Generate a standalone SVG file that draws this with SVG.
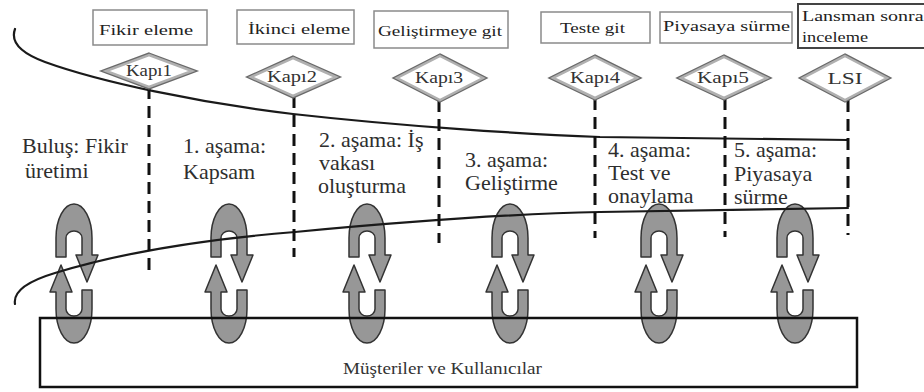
<svg xmlns="http://www.w3.org/2000/svg" xmlns:xlink="http://www.w3.org/1999/xlink" width="924" height="392" viewBox="0 0 924 392" font-family="'Liberation Serif', 'Times New Roman', Tinos, 'Noto Serif', 'DejaVu Serif', FreeSerif, serif">
  <style>
    .box { fill: #fff; stroke: #8a8a8a; stroke-width: 1.5; }
    .box-dark { fill: #fff; stroke: #444; stroke-width: 2; }
    .boxtxt { font-size: 15px; fill: #222; }
    .dia-out { fill: #fff; stroke: #6a6a6a; stroke-width: 5; stroke-linejoin: miter; }
    .dia-in { fill: #fff; stroke: #b0b0b0; stroke-width: 2.5; stroke-linejoin: miter; }
    .diatxt { font-size: 16px; fill: #333; text-anchor: middle; }
    .phase { font-size: 22px; fill: #2e2e2e; }
    .gate-line { fill: none; stroke: #111; stroke-width: 3; stroke-dasharray: 12 7; }
    .curve { fill: none; stroke: #1a1a1a; stroke-width: 2.2; stroke-linecap: round; }
    .cycle { fill: #979797; stroke: #333; stroke-width: 1.5; stroke-linejoin: round; }
    .cust { fill: none; stroke: #111; stroke-width: 2.5; }
    .custtxt { font-size: 17px; fill: #333; }
  </style>
  <defs>
    <!-- feedback loop: downward arch with arrowhead, plus its upward mirror -->
    <g id="loop">
      <path class="cycle" d="M-18,257 L-18,238 A18,34 0 0 1 18,238 L18,255 L24,255 L13,282 L2,255 L8,255 L8,238 A8,7 0 0 0 -8,238 L-8,257 Z"/>
      <path class="cycle" transform="rotate(180 0 273.5)" d="M-18,257 L-18,238 A18,34 0 0 1 18,238 L18,255 L24,255 L13,282 L2,255 L8,255 L8,238 A8,7 0 0 0 -8,238 L-8,257 Z"/>
    </g>
  </defs>

  <rect width="924" height="392" fill="#fff"/>

  <!-- feedback loops between stages and customers -->
  <g id="loops">
    <use xlink:href="#loop" transform="translate(74,0)"/>
    <use xlink:href="#loop" transform="translate(229,0)"/>
    <use xlink:href="#loop" transform="translate(367,0)"/>
    <use xlink:href="#loop" transform="translate(510,0)"/>
    <use xlink:href="#loop" transform="translate(659,0)"/>
    <use xlink:href="#loop" transform="translate(795,0)"/>
  </g>

  <!-- connectors: funnel curves and gate lines -->
  <g id="connectors">
    <path class="curve" d="M15,29 C11,40 18,52 45,62 C100,82 200,103 293,114 C400,126 520,134 600,137 L848,140"/>
    <path class="curve" d="M15,304 C13,292 25,282 55,273 C130,250 220,238 295,232 C400,222 500,214 600,212 L848,208"/>
    <line class="gate-line" x1="149" y1="87" x2="149" y2="273"/>
    <line class="gate-line" x1="294" y1="96" x2="294" y2="257"/>
    <line class="gate-line" x1="439" y1="100" x2="439" y2="243"/>
    <line class="gate-line" x1="595" y1="98" x2="595" y2="238"/>
    <line class="gate-line" x1="725" y1="98" x2="725" y2="237"/>
    <line class="gate-line" x1="848" y1="100" x2="848" y2="235"/>
  </g>

  <!-- decision boxes -->
  <g id="box-fikir-eleme">
    <rect class="box" x="93" y="10" width="114" height="35"/>
    <text class="boxtxt" x="99" y="35" textLength="94" lengthAdjust="spacingAndGlyphs">Fikir eleme</text>
  </g>
  <g id="box-ikinci-eleme">
    <rect class="box" x="237" y="10" width="117" height="34"/>
    <text class="boxtxt" x="248" y="34" textLength="102" lengthAdjust="spacingAndGlyphs">İkinci eleme</text>
  </g>
  <g id="box-gelistirmeye-git">
    <rect class="box" x="374" y="11" width="134" height="37"/>
    <text class="boxtxt" x="378" y="36" textLength="124" lengthAdjust="spacingAndGlyphs">Geliştirmeye git</text>
  </g>
  <g id="box-teste-git">
    <rect class="box" x="541" y="12" width="109" height="31"/>
    <text class="boxtxt" x="560" y="33" textLength="65" lengthAdjust="spacingAndGlyphs">Teste git</text>
  </g>
  <g id="box-piyasaya-surme">
    <rect class="box" x="660" y="12" width="132" height="31"/>
    <text class="boxtxt" x="663" y="31" textLength="127" lengthAdjust="spacingAndGlyphs">Piyasaya sürme</text>
  </g>
  <g id="box-lansman">
    <rect class="box-dark" x="798" y="4" width="132" height="44"/>
    <text class="boxtxt" x="802" y="21" textLength="135" lengthAdjust="spacingAndGlyphs">Lansman sonrası</text>
    <text class="boxtxt" x="802" y="42" textLength="66" lengthAdjust="spacingAndGlyphs">inceleme</text>
  </g>

  <!-- gates -->
  <g id="gate-1">
    <polygon class="dia-out" points="149,55 192,71 149,87 106,71"/>
    <polygon class="dia-in" points="149,55 192,71 149,87 106,71"/>
    <text class="diatxt" x="149" y="76" textLength="46" lengthAdjust="spacingAndGlyphs">Kapı1</text>
  </g>
  <g id="gate-2">
    <polygon class="dia-out" points="293,58 336,77 293,96 251,77"/>
    <polygon class="dia-in" points="293,58 336,77 293,96 251,77"/>
    <text class="diatxt" x="292" y="82" textLength="50" lengthAdjust="spacingAndGlyphs">Kapı2</text>
  </g>
  <g id="gate-3">
    <polygon class="dia-out" points="440,56 483,78 440,100 397,78"/>
    <polygon class="dia-in" points="440,56 483,78 440,100 397,78"/>
    <text class="diatxt" x="439" y="83" textLength="48" lengthAdjust="spacingAndGlyphs">Kapı3</text>
  </g>
  <g id="gate-4">
    <polygon class="dia-out" points="595,57 637,78 595,98 553,78"/>
    <polygon class="dia-in" points="595,57 637,78 595,98 553,78"/>
    <text class="diatxt" x="595" y="83" textLength="50" lengthAdjust="spacingAndGlyphs">Kapı4</text>
  </g>
  <g id="gate-5">
    <polygon class="dia-out" points="724,57 767,78 724,98 681,78"/>
    <polygon class="dia-in" points="724,57 767,78 724,98 681,78"/>
    <text class="diatxt" x="723" y="83" textLength="52" lengthAdjust="spacingAndGlyphs">Kapı5</text>
  </g>
  <g id="gate-lsi">
    <polygon class="dia-out" points="845,56 887,78 845,100 803,78"/>
    <polygon class="dia-in" points="845,56 887,78 845,100 803,78"/>
    <text class="diatxt" x="845" y="84" font-size="21" textLength="35" lengthAdjust="spacingAndGlyphs">LSI</text>
  </g>

  <!-- stages -->
  <g id="stage-0">
    <text class="phase" x="22" y="153">Buluş: Fikir</text>
    <text class="phase" x="25" y="178">üretimi</text>
  </g>
  <g id="stage-1">
    <text class="phase" x="183" y="153">1. aşama:</text>
    <text class="phase" x="183" y="179">Kapsam</text>
  </g>
  <g id="stage-2">
    <text class="phase" x="319" y="147">2. aşama: İş</text>
    <text class="phase" x="319" y="170">vakası</text>
    <text class="phase" x="318" y="193">oluşturma</text>
  </g>
  <g id="stage-3">
    <text class="phase" x="465" y="167">3. aşama:</text>
    <text class="phase" x="465" y="190">Geliştirme</text>
  </g>
  <g id="stage-4">
    <text class="phase" x="608" y="157">4. aşama:</text>
    <text class="phase" x="608" y="180">Test ve</text>
    <text class="phase" x="608" y="203">onaylama</text>
  </g>
  <g id="stage-5">
    <text class="phase" x="734" y="157">5. aşama:</text>
    <text class="phase" x="734" y="181">Piyasaya</text>
    <text class="phase" x="734" y="204">sürme</text>
  </g>

  <!-- customers and users -->
  <g id="customers">
    <rect class="cust" x="40" y="318" width="817" height="69"/>
    <text class="custtxt" x="343" y="374" textLength="199" lengthAdjust="spacingAndGlyphs">Müşteriler ve Kullanıcılar</text>
  </g>
</svg>
